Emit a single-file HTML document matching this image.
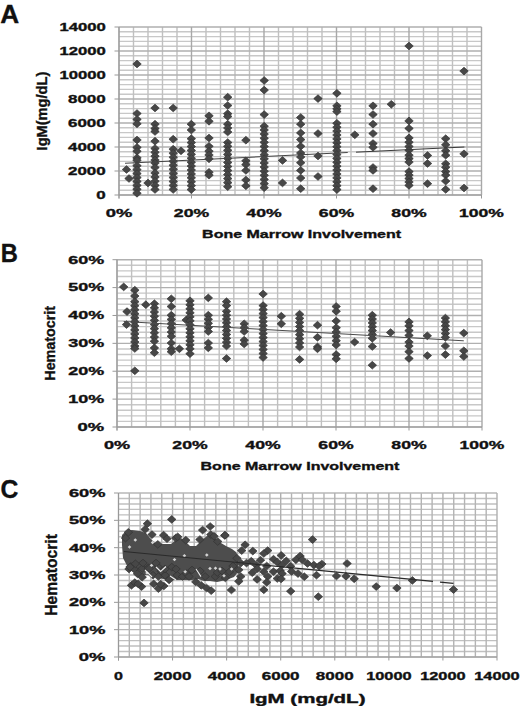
<!DOCTYPE html>
<html><head><meta charset="utf-8"><title>Figure</title>
<style>html,body{margin:0;padding:0;background:#fff;}body{width:520px;height:706px;overflow:hidden;}svg{display:block;}text{font-family:"Liberation Sans",sans-serif;font-weight:bold;fill:#111;stroke:#111;stroke-width:0.35px;}</style>
</head><body>
<svg width="520" height="706" viewBox="0 0 520 706">
<defs>
<path id="d" d="M0,-3.85L4.25,0L0,3.85L-4.25,0Z" fill="#474747" stroke="#333333" stroke-width="0.7"/>
</defs>
<rect width="520" height="706" fill="#fff"/>
<path d="M119 190.2H481.5M119 185.4H481.5M119 180.6H481.5M119 175.8H481.5M119 166.2H481.5M119 161.4H481.5M119 156.6H481.5M119 151.8H481.5M119 142.2H481.5M119 137.4H481.5M119 132.6H481.5M119 127.8H481.5M119 118.2H481.5M119 113.4H481.5M119 108.6H481.5M119 103.8H481.5M119 94.2H481.5M119 89.4H481.5M119 84.6H481.5M119 79.8H481.5M119 70.2H481.5M119 65.4H481.5M119 60.6H481.5M119 55.8H481.5M119 46.2H481.5M119 41.4H481.5M119 36.6H481.5M119 31.8H481.5" stroke="#c8c8c8" stroke-width="1.4" fill="none"/>
<path d="M133.5 27V195M148 27V195M162.5 27V195M177 27V195M206 27V195M220.5 27V195M235 27V195M249.5 27V195M278.5 27V195M293 27V195M307.5 27V195M322 27V195M351 27V195M365.5 27V195M380 27V195M394.5 27V195M423.5 27V195M438 27V195M452.5 27V195M467 27V195" stroke="#c0c0c0" stroke-width="1.4" fill="none"/>
<path d="M119 195H481.5M119 171H481.5M119 147H481.5M119 123H481.5M119 99H481.5M119 75H481.5M119 51H481.5M119 27H481.5" stroke="#b0b0b0" stroke-width="1.4" fill="none"/>
<path d="M119 27V195M191.5 27V195M264 27V195M336.5 27V195M409 27V195M481.5 27V195" stroke="#a8a8a8" stroke-width="1.4" fill="none"/>
<line x1="119" y1="27" x2="119" y2="198.5" stroke="#999999" stroke-width="1"/>
<line x1="119" y1="195" x2="481.5" y2="195" stroke="#999999" stroke-width="1"/>
<line x1="114.5" y1="195" x2="119" y2="195" stroke="#999999" stroke-width="1"/>
<line x1="114.5" y1="171" x2="119" y2="171" stroke="#999999" stroke-width="1"/>
<line x1="114.5" y1="147" x2="119" y2="147" stroke="#999999" stroke-width="1"/>
<line x1="114.5" y1="123" x2="119" y2="123" stroke="#999999" stroke-width="1"/>
<line x1="114.5" y1="99" x2="119" y2="99" stroke="#999999" stroke-width="1"/>
<line x1="114.5" y1="75" x2="119" y2="75" stroke="#999999" stroke-width="1"/>
<line x1="114.5" y1="51" x2="119" y2="51" stroke="#999999" stroke-width="1"/>
<line x1="114.5" y1="27" x2="119" y2="27" stroke="#999999" stroke-width="1"/>
<line x1="119" y1="195" x2="119" y2="198.5" stroke="#999999" stroke-width="1"/>
<line x1="191.5" y1="195" x2="191.5" y2="198.5" stroke="#999999" stroke-width="1"/>
<line x1="264" y1="195" x2="264" y2="198.5" stroke="#999999" stroke-width="1"/>
<line x1="336.5" y1="195" x2="336.5" y2="198.5" stroke="#999999" stroke-width="1"/>
<line x1="409" y1="195" x2="409" y2="198.5" stroke="#999999" stroke-width="1"/>
<line x1="481.5" y1="195" x2="481.5" y2="198.5" stroke="#999999" stroke-width="1"/>
<use href="#d" x="126.5" y="169.5"/>
<use href="#d" x="129" y="178.5"/>
<use href="#d" x="137" y="64"/>
<use href="#d" x="137" y="113.5"/>
<use href="#d" x="137" y="119.4"/>
<use href="#d" x="137" y="123.8"/>
<use href="#d" x="137" y="140"/>
<use href="#d" x="137" y="147.4"/>
<use href="#d" x="137" y="151.3"/>
<use href="#d" x="137" y="157.8"/>
<use href="#d" x="137" y="160.3"/>
<use href="#d" x="137" y="165.7"/>
<use href="#d" x="137" y="169.64"/>
<use href="#d" x="137" y="173.59"/>
<use href="#d" x="137" y="177.53"/>
<use href="#d" x="137" y="181.47"/>
<use href="#d" x="137" y="185.41"/>
<use href="#d" x="137" y="189.36"/>
<use href="#d" x="137" y="193.3"/>
<use href="#d" x="148" y="183"/>
<use href="#d" x="155" y="108"/>
<use href="#d" x="155" y="124.2"/>
<use href="#d" x="155" y="128.5"/>
<use href="#d" x="155" y="131.5"/>
<use href="#d" x="155" y="141.2"/>
<use href="#d" x="155" y="148.5"/>
<use href="#d" x="155" y="152.33"/>
<use href="#d" x="155" y="156.17"/>
<use href="#d" x="155" y="160"/>
<use href="#d" x="155" y="163"/>
<use href="#d" x="155" y="167.5"/>
<use href="#d" x="155" y="173"/>
<use href="#d" x="155" y="177.12"/>
<use href="#d" x="155" y="181.25"/>
<use href="#d" x="155" y="185.38"/>
<use href="#d" x="155" y="189.5"/>
<use href="#d" x="173.2" y="108"/>
<use href="#d" x="173.2" y="139.2"/>
<use href="#d" x="173.2" y="149.2"/>
<use href="#d" x="173.2" y="153.23"/>
<use href="#d" x="173.2" y="157.26"/>
<use href="#d" x="173.2" y="161.29"/>
<use href="#d" x="173.2" y="165.32"/>
<use href="#d" x="173.2" y="169.35"/>
<use href="#d" x="173.2" y="173.38"/>
<use href="#d" x="173.2" y="177.41"/>
<use href="#d" x="173.2" y="181.44"/>
<use href="#d" x="173.2" y="185.47"/>
<use href="#d" x="173.2" y="189.5"/>
<use href="#d" x="181" y="150.8"/>
<use href="#d" x="191.3" y="124.2"/>
<use href="#d" x="191.3" y="130"/>
<use href="#d" x="191.3" y="138.7"/>
<use href="#d" x="191.3" y="142.62"/>
<use href="#d" x="191.3" y="146.53"/>
<use href="#d" x="191.3" y="150.45"/>
<use href="#d" x="191.3" y="154.36"/>
<use href="#d" x="191.3" y="158.28"/>
<use href="#d" x="191.3" y="162.19"/>
<use href="#d" x="191.3" y="166.11"/>
<use href="#d" x="191.3" y="170.02"/>
<use href="#d" x="191.3" y="173.94"/>
<use href="#d" x="191.3" y="177.85"/>
<use href="#d" x="191.3" y="181.77"/>
<use href="#d" x="191.3" y="185.68"/>
<use href="#d" x="191.3" y="189.6"/>
<use href="#d" x="209" y="115.8"/>
<use href="#d" x="209" y="121.3"/>
<use href="#d" x="209" y="138"/>
<use href="#d" x="209" y="146.3"/>
<use href="#d" x="209" y="151.2"/>
<use href="#d" x="209" y="155"/>
<use href="#d" x="209" y="158.8"/>
<use href="#d" x="209" y="172.3"/>
<use href="#d" x="209" y="175.2"/>
<use href="#d" x="227.7" y="97.2"/>
<use href="#d" x="227.7" y="105.5"/>
<use href="#d" x="227.7" y="113.7"/>
<use href="#d" x="227.7" y="116.5"/>
<use href="#d" x="227.7" y="124.2"/>
<use href="#d" x="227.7" y="128"/>
<use href="#d" x="227.7" y="132"/>
<use href="#d" x="227.7" y="142.5"/>
<use href="#d" x="227.7" y="146.3"/>
<use href="#d" x="227.7" y="150.34"/>
<use href="#d" x="227.7" y="154.38"/>
<use href="#d" x="227.7" y="158.42"/>
<use href="#d" x="227.7" y="162.46"/>
<use href="#d" x="227.7" y="166.5"/>
<use href="#d" x="227.7" y="170.54"/>
<use href="#d" x="227.7" y="174.58"/>
<use href="#d" x="227.7" y="178.62"/>
<use href="#d" x="227.7" y="182.66"/>
<use href="#d" x="227.7" y="186.7"/>
<use href="#d" x="245.9" y="140.2"/>
<use href="#d" x="245.9" y="160.8"/>
<use href="#d" x="245.9" y="164.6"/>
<use href="#d" x="245.9" y="170.4"/>
<use href="#d" x="245.9" y="180"/>
<use href="#d" x="245.9" y="185.8"/>
<use href="#d" x="264.2" y="80.5"/>
<use href="#d" x="264.2" y="90.1"/>
<use href="#d" x="264.2" y="114.6"/>
<use href="#d" x="264.2" y="126.2"/>
<use href="#d" x="264.2" y="130"/>
<use href="#d" x="264.2" y="134.12"/>
<use href="#d" x="264.2" y="138.24"/>
<use href="#d" x="264.2" y="142.36"/>
<use href="#d" x="264.2" y="146.49"/>
<use href="#d" x="264.2" y="150.61"/>
<use href="#d" x="264.2" y="154.73"/>
<use href="#d" x="264.2" y="158.85"/>
<use href="#d" x="264.2" y="162.97"/>
<use href="#d" x="264.2" y="167.09"/>
<use href="#d" x="264.2" y="171.21"/>
<use href="#d" x="264.2" y="175.34"/>
<use href="#d" x="264.2" y="179.46"/>
<use href="#d" x="264.2" y="183.58"/>
<use href="#d" x="264.2" y="187.7"/>
<use href="#d" x="282.5" y="160.4"/>
<use href="#d" x="282.5" y="182.9"/>
<use href="#d" x="300.7" y="117.5"/>
<use href="#d" x="300.7" y="124.2"/>
<use href="#d" x="300.7" y="132.9"/>
<use href="#d" x="300.7" y="139.6"/>
<use href="#d" x="300.7" y="146.3"/>
<use href="#d" x="300.7" y="153"/>
<use href="#d" x="300.7" y="157"/>
<use href="#d" x="300.7" y="162.7"/>
<use href="#d" x="300.7" y="170.4"/>
<use href="#d" x="300.7" y="178"/>
<use href="#d" x="300.7" y="188.7"/>
<use href="#d" x="318" y="98.6"/>
<use href="#d" x="318" y="133.5"/>
<use href="#d" x="318" y="156"/>
<use href="#d" x="318" y="176.5"/>
<use href="#d" x="336.9" y="93.3"/>
<use href="#d" x="336.9" y="105.8"/>
<use href="#d" x="336.9" y="108.8"/>
<use href="#d" x="336.9" y="111.6"/>
<use href="#d" x="336.9" y="123.3"/>
<use href="#d" x="336.9" y="127.2"/>
<use href="#d" x="336.9" y="131.1"/>
<use href="#d" x="336.9" y="135"/>
<use href="#d" x="336.9" y="138.9"/>
<use href="#d" x="336.9" y="142.8"/>
<use href="#d" x="336.9" y="146.7"/>
<use href="#d" x="336.9" y="150.6"/>
<use href="#d" x="336.9" y="154.5"/>
<use href="#d" x="336.9" y="158.4"/>
<use href="#d" x="336.9" y="162.3"/>
<use href="#d" x="336.9" y="166.2"/>
<use href="#d" x="336.9" y="170.1"/>
<use href="#d" x="336.9" y="174"/>
<use href="#d" x="336.9" y="177.9"/>
<use href="#d" x="336.9" y="181.8"/>
<use href="#d" x="336.9" y="185.7"/>
<use href="#d" x="336.9" y="189.6"/>
<use href="#d" x="354.8" y="134.8"/>
<use href="#d" x="373" y="105.8"/>
<use href="#d" x="373" y="114.5"/>
<use href="#d" x="373" y="124.2"/>
<use href="#d" x="373" y="133.5"/>
<use href="#d" x="373" y="143.5"/>
<use href="#d" x="373" y="147.3"/>
<use href="#d" x="373" y="167.5"/>
<use href="#d" x="373" y="170.4"/>
<use href="#d" x="373" y="188.7"/>
<use href="#d" x="391.3" y="104.3"/>
<use href="#d" x="409" y="46"/>
<use href="#d" x="409" y="120.9"/>
<use href="#d" x="409" y="128.4"/>
<use href="#d" x="409" y="137.9"/>
<use href="#d" x="409" y="142.2"/>
<use href="#d" x="409" y="146.5"/>
<use href="#d" x="409" y="150.3"/>
<use href="#d" x="409" y="155.2"/>
<use href="#d" x="409" y="158.6"/>
<use href="#d" x="409" y="162.1"/>
<use href="#d" x="409" y="171.6"/>
<use href="#d" x="409" y="175.1"/>
<use href="#d" x="409" y="178.5"/>
<use href="#d" x="409" y="182"/>
<use href="#d" x="409" y="185.4"/>
<use href="#d" x="427.5" y="155.5"/>
<use href="#d" x="427.5" y="163.5"/>
<use href="#d" x="427.5" y="183.7"/>
<use href="#d" x="445.7" y="138.7"/>
<use href="#d" x="445.7" y="144.8"/>
<use href="#d" x="445.7" y="150.8"/>
<use href="#d" x="445.7" y="155.2"/>
<use href="#d" x="445.7" y="163.8"/>
<use href="#d" x="445.7" y="167.3"/>
<use href="#d" x="445.7" y="171.6"/>
<use href="#d" x="445.7" y="175.1"/>
<use href="#d" x="445.7" y="181.1"/>
<use href="#d" x="445.7" y="189.4"/>
<use href="#d" x="464" y="71.1"/>
<use href="#d" x="464" y="153.8"/>
<use href="#d" x="464" y="188"/>
<line x1="125" y1="163.2" x2="347.7" y2="152.57" stroke="#444" stroke-width="1.1"/><line x1="356" y1="152.17" x2="464.4" y2="147" stroke="#3a3a3a" stroke-width="1"/>
<text x="0.2" y="22.5" font-size="25.5" textLength="18.9" lengthAdjust="spacingAndGlyphs">A</text>
<text x="96.3" y="198.9" font-size="11" textLength="9.4" lengthAdjust="spacingAndGlyphs">0</text>
<text x="68" y="174.9" font-size="11" textLength="37.7" lengthAdjust="spacingAndGlyphs">2000</text>
<text x="68" y="150.9" font-size="11" textLength="37.7" lengthAdjust="spacingAndGlyphs">4000</text>
<text x="68" y="126.9" font-size="11" textLength="37.7" lengthAdjust="spacingAndGlyphs">6000</text>
<text x="68" y="102.9" font-size="11" textLength="37.7" lengthAdjust="spacingAndGlyphs">8000</text>
<text x="59.4" y="78.9" font-size="11" textLength="46.3" lengthAdjust="spacingAndGlyphs">10000</text>
<text x="59.4" y="54.9" font-size="11" textLength="46.3" lengthAdjust="spacingAndGlyphs">12000</text>
<text x="59.4" y="30.9" font-size="11" textLength="46.3" lengthAdjust="spacingAndGlyphs">14000</text>
<text x="105.7" y="216.5" font-size="11" textLength="26.6" lengthAdjust="spacingAndGlyphs">0%</text>
<text x="173.85" y="216.5" font-size="11" textLength="35.3" lengthAdjust="spacingAndGlyphs">20%</text>
<text x="246.35" y="216.5" font-size="11" textLength="35.3" lengthAdjust="spacingAndGlyphs">40%</text>
<text x="318.85" y="216.5" font-size="11" textLength="35.3" lengthAdjust="spacingAndGlyphs">60%</text>
<text x="391.35" y="216.5" font-size="11" textLength="35.3" lengthAdjust="spacingAndGlyphs">80%</text>
<text x="459.1" y="216.5" font-size="11" textLength="44.8" lengthAdjust="spacingAndGlyphs">100%</text>
<text x="202.1" y="237.6" font-size="11" textLength="199" lengthAdjust="spacingAndGlyphs">Bone Marrow Involvement</text>
<text transform="translate(46.7,150.4) rotate(-90)" x="0" y="0" font-size="14" textLength="78.7" lengthAdjust="spacingAndGlyphs">IgM(mg/dL)</text>
<path d="M117 421.42H482M117 415.85H482M117 410.27H482M117 404.69H482M117 393.54H482M117 387.96H482M117 382.39H482M117 376.81H482M117 365.66H482M117 360.08H482M117 354.5H482M117 348.93H482M117 337.77H482M117 332.2H482M117 326.62H482M117 321.04H482M117 309.89H482M117 304.31H482M117 298.74H482M117 293.16H482M117 282.01H482M117 276.43H482M117 270.85H482M117 265.28H482" stroke="#c8c8c8" stroke-width="1.4" fill="none"/>
<path d="M131.6 259.7V427M146.2 259.7V427M160.8 259.7V427M175.4 259.7V427M204.6 259.7V427M219.2 259.7V427M233.8 259.7V427M248.4 259.7V427M277.6 259.7V427M292.2 259.7V427M306.8 259.7V427M321.4 259.7V427M350.6 259.7V427M365.2 259.7V427M379.8 259.7V427M394.4 259.7V427M423.6 259.7V427M438.2 259.7V427M452.8 259.7V427M467.4 259.7V427" stroke="#c0c0c0" stroke-width="1.4" fill="none"/>
<path d="M117 427H482M117 399.12H482M117 371.23H482M117 343.35H482M117 315.47H482M117 287.58H482M117 259.7H482" stroke="#b0b0b0" stroke-width="1.4" fill="none"/>
<path d="M117 259.7V427M190 259.7V427M263 259.7V427M336 259.7V427M409 259.7V427M482 259.7V427" stroke="#a8a8a8" stroke-width="1.4" fill="none"/>
<line x1="117" y1="259.7" x2="117" y2="430.5" stroke="#999999" stroke-width="1"/>
<line x1="117" y1="427" x2="482" y2="427" stroke="#999999" stroke-width="1"/>
<line x1="112.5" y1="427" x2="117" y2="427" stroke="#999999" stroke-width="1"/>
<line x1="112.5" y1="399.12" x2="117" y2="399.12" stroke="#999999" stroke-width="1"/>
<line x1="112.5" y1="371.23" x2="117" y2="371.23" stroke="#999999" stroke-width="1"/>
<line x1="112.5" y1="343.35" x2="117" y2="343.35" stroke="#999999" stroke-width="1"/>
<line x1="112.5" y1="315.47" x2="117" y2="315.47" stroke="#999999" stroke-width="1"/>
<line x1="112.5" y1="287.58" x2="117" y2="287.58" stroke="#999999" stroke-width="1"/>
<line x1="112.5" y1="259.7" x2="117" y2="259.7" stroke="#999999" stroke-width="1"/>
<line x1="117" y1="427" x2="117" y2="430.5" stroke="#999999" stroke-width="1"/>
<line x1="190" y1="427" x2="190" y2="430.5" stroke="#999999" stroke-width="1"/>
<line x1="263" y1="427" x2="263" y2="430.5" stroke="#999999" stroke-width="1"/>
<line x1="336" y1="427" x2="336" y2="430.5" stroke="#999999" stroke-width="1"/>
<line x1="409" y1="427" x2="409" y2="430.5" stroke="#999999" stroke-width="1"/>
<line x1="482" y1="427" x2="482" y2="430.5" stroke="#999999" stroke-width="1"/>
<use href="#d" x="123.7" y="286.9"/>
<use href="#d" x="127" y="311.6"/>
<use href="#d" x="126.5" y="324.6"/>
<use href="#d" x="134.8" y="290.2"/>
<use href="#d" x="134.8" y="296"/>
<use href="#d" x="134.8" y="301.7"/>
<use href="#d" x="134.8" y="305.73"/>
<use href="#d" x="134.8" y="309.75"/>
<use href="#d" x="134.8" y="313.78"/>
<use href="#d" x="134.8" y="317.81"/>
<use href="#d" x="134.8" y="321.84"/>
<use href="#d" x="134.8" y="325.86"/>
<use href="#d" x="134.8" y="329.89"/>
<use href="#d" x="134.8" y="333.92"/>
<use href="#d" x="134.8" y="337.95"/>
<use href="#d" x="134.8" y="341.97"/>
<use href="#d" x="134.8" y="346"/>
<use href="#d" x="134.8" y="348.5"/>
<use href="#d" x="134.8" y="370.8"/>
<use href="#d" x="145.8" y="304.7"/>
<use href="#d" x="154.4" y="303.7"/>
<use href="#d" x="154.4" y="307.87"/>
<use href="#d" x="154.4" y="312.03"/>
<use href="#d" x="154.4" y="316.2"/>
<use href="#d" x="154.4" y="320.37"/>
<use href="#d" x="154.4" y="324.53"/>
<use href="#d" x="154.4" y="328.7"/>
<use href="#d" x="154.4" y="332.87"/>
<use href="#d" x="154.4" y="337.03"/>
<use href="#d" x="154.4" y="341.2"/>
<use href="#d" x="154.4" y="347.9"/>
<use href="#d" x="154.4" y="352.7"/>
<use href="#d" x="171.3" y="298.8"/>
<use href="#d" x="171.3" y="306.5"/>
<use href="#d" x="171.3" y="315.2"/>
<use href="#d" x="171.3" y="319.42"/>
<use href="#d" x="171.3" y="323.64"/>
<use href="#d" x="171.3" y="327.86"/>
<use href="#d" x="171.3" y="332.08"/>
<use href="#d" x="171.3" y="336.3"/>
<use href="#d" x="171.3" y="343"/>
<use href="#d" x="171.3" y="348.8"/>
<use href="#d" x="171.3" y="351.7"/>
<use href="#d" x="179.4" y="348.8"/>
<use href="#d" x="186.2" y="320"/>
<use href="#d" x="190" y="300.8"/>
<use href="#d" x="190" y="304.8"/>
<use href="#d" x="190" y="308.8"/>
<use href="#d" x="190" y="312.8"/>
<use href="#d" x="190" y="316.8"/>
<use href="#d" x="190" y="320.8"/>
<use href="#d" x="190" y="324.8"/>
<use href="#d" x="190" y="328.8"/>
<use href="#d" x="190" y="332.8"/>
<use href="#d" x="190" y="336.8"/>
<use href="#d" x="190" y="340.8"/>
<use href="#d" x="190" y="344.8"/>
<use href="#d" x="190" y="348.8"/>
<use href="#d" x="190" y="353.7"/>
<use href="#d" x="208.3" y="297.9"/>
<use href="#d" x="208.3" y="315.2"/>
<use href="#d" x="208.3" y="319.27"/>
<use href="#d" x="208.3" y="323.35"/>
<use href="#d" x="208.3" y="327.43"/>
<use href="#d" x="208.3" y="331.5"/>
<use href="#d" x="208.3" y="343"/>
<use href="#d" x="208.3" y="347.9"/>
<use href="#d" x="226.5" y="301.7"/>
<use href="#d" x="226.5" y="305.6"/>
<use href="#d" x="226.5" y="311.3"/>
<use href="#d" x="226.5" y="315.16"/>
<use href="#d" x="226.5" y="319.01"/>
<use href="#d" x="226.5" y="322.87"/>
<use href="#d" x="226.5" y="326.72"/>
<use href="#d" x="226.5" y="330.58"/>
<use href="#d" x="226.5" y="334.43"/>
<use href="#d" x="226.5" y="338.29"/>
<use href="#d" x="226.5" y="342.14"/>
<use href="#d" x="226.5" y="346"/>
<use href="#d" x="226.5" y="358.5"/>
<use href="#d" x="244.2" y="323.8"/>
<use href="#d" x="244.2" y="327.7"/>
<use href="#d" x="244.2" y="331.5"/>
<use href="#d" x="244.2" y="340.2"/>
<use href="#d" x="244.2" y="344"/>
<use href="#d" x="263.1" y="294"/>
<use href="#d" x="263.1" y="305.6"/>
<use href="#d" x="263.1" y="309.59"/>
<use href="#d" x="263.1" y="313.58"/>
<use href="#d" x="263.1" y="317.58"/>
<use href="#d" x="263.1" y="321.57"/>
<use href="#d" x="263.1" y="325.56"/>
<use href="#d" x="263.1" y="329.55"/>
<use href="#d" x="263.1" y="333.55"/>
<use href="#d" x="263.1" y="337.54"/>
<use href="#d" x="263.1" y="341.53"/>
<use href="#d" x="263.1" y="345.52"/>
<use href="#d" x="263.1" y="349.52"/>
<use href="#d" x="263.1" y="353.51"/>
<use href="#d" x="263.1" y="357.5"/>
<use href="#d" x="281.3" y="316.2"/>
<use href="#d" x="281.3" y="323.8"/>
<use href="#d" x="299.6" y="314.2"/>
<use href="#d" x="299.6" y="318.3"/>
<use href="#d" x="299.6" y="322.4"/>
<use href="#d" x="299.6" y="326.5"/>
<use href="#d" x="299.6" y="330.6"/>
<use href="#d" x="299.6" y="334.7"/>
<use href="#d" x="299.6" y="338.8"/>
<use href="#d" x="299.6" y="342.9"/>
<use href="#d" x="299.6" y="347"/>
<use href="#d" x="299.6" y="359.4"/>
<use href="#d" x="317.5" y="325.2"/>
<use href="#d" x="317.5" y="337.3"/>
<use href="#d" x="317.5" y="346.9"/>
<use href="#d" x="317.5" y="348.8"/>
<use href="#d" x="336.2" y="306.5"/>
<use href="#d" x="336.2" y="311.3"/>
<use href="#d" x="336.2" y="321"/>
<use href="#d" x="336.2" y="327.7"/>
<use href="#d" x="336.2" y="332.02"/>
<use href="#d" x="336.2" y="336.35"/>
<use href="#d" x="336.2" y="340.68"/>
<use href="#d" x="336.2" y="345"/>
<use href="#d" x="336.2" y="354.6"/>
<use href="#d" x="336.2" y="358.8"/>
<use href="#d" x="354.6" y="342.1"/>
<use href="#d" x="372.3" y="315.2"/>
<use href="#d" x="372.3" y="319.05"/>
<use href="#d" x="372.3" y="322.9"/>
<use href="#d" x="372.3" y="326.75"/>
<use href="#d" x="372.3" y="330.6"/>
<use href="#d" x="372.3" y="334.45"/>
<use href="#d" x="372.3" y="338.3"/>
<use href="#d" x="372.3" y="346.5"/>
<use href="#d" x="372.3" y="365.2"/>
<use href="#d" x="390.6" y="332.5"/>
<use href="#d" x="409" y="321.9"/>
<use href="#d" x="409" y="325.8"/>
<use href="#d" x="409" y="330.6"/>
<use href="#d" x="409" y="335.4"/>
<use href="#d" x="409" y="342.1"/>
<use href="#d" x="409" y="346"/>
<use href="#d" x="409" y="351.7"/>
<use href="#d" x="409" y="358.5"/>
<use href="#d" x="427.3" y="335.8"/>
<use href="#d" x="427.3" y="355.6"/>
<use href="#d" x="445.4" y="318.1"/>
<use href="#d" x="445.4" y="321.9"/>
<use href="#d" x="445.4" y="325.8"/>
<use href="#d" x="445.4" y="329.63"/>
<use href="#d" x="445.4" y="333.47"/>
<use href="#d" x="445.4" y="337.3"/>
<use href="#d" x="445.4" y="346"/>
<use href="#d" x="445.4" y="354.6"/>
<use href="#d" x="463.8" y="333.1"/>
<use href="#d" x="463.8" y="350.8"/>
<use href="#d" x="463.8" y="356.5"/>
<line x1="123.7" y1="321.5" x2="463.8" y2="340.8" stroke="#4a4a4a" stroke-width="1"/>
<text x="0.8" y="261.9" font-size="25.5" textLength="17.1" lengthAdjust="spacingAndGlyphs">B</text>
<text x="77.6" y="430.9" font-size="11" textLength="26.6" lengthAdjust="spacingAndGlyphs">0%</text>
<text x="68.3" y="403.02" font-size="11" textLength="35.9" lengthAdjust="spacingAndGlyphs">10%</text>
<text x="68.3" y="375.13" font-size="11" textLength="35.9" lengthAdjust="spacingAndGlyphs">20%</text>
<text x="68.3" y="347.25" font-size="11" textLength="35.9" lengthAdjust="spacingAndGlyphs">30%</text>
<text x="68.3" y="319.37" font-size="11" textLength="35.9" lengthAdjust="spacingAndGlyphs">40%</text>
<text x="68.3" y="291.48" font-size="11" textLength="35.9" lengthAdjust="spacingAndGlyphs">50%</text>
<text x="68.3" y="263.6" font-size="11" textLength="35.9" lengthAdjust="spacingAndGlyphs">60%</text>
<text x="103.9" y="448.6" font-size="11" textLength="26.2" lengthAdjust="spacingAndGlyphs">0%</text>
<text x="172.35" y="448.6" font-size="11" textLength="35.3" lengthAdjust="spacingAndGlyphs">20%</text>
<text x="245.35" y="448.6" font-size="11" textLength="35.3" lengthAdjust="spacingAndGlyphs">40%</text>
<text x="318.35" y="448.6" font-size="11" textLength="35.3" lengthAdjust="spacingAndGlyphs">60%</text>
<text x="391.35" y="448.6" font-size="11" textLength="35.3" lengthAdjust="spacingAndGlyphs">80%</text>
<text x="459.6" y="448.6" font-size="11" textLength="44.8" lengthAdjust="spacingAndGlyphs">100%</text>
<text x="200.6" y="470.2" font-size="11" textLength="198.8" lengthAdjust="spacingAndGlyphs">Bone Marrow Involvement</text>
<text transform="translate(55.2,380.7) rotate(-90)" x="0" y="0" font-size="15" textLength="74.8" lengthAdjust="spacingAndGlyphs">Hematocrit</text>
<path d="M118.5 651.53H497M118.5 646.07H497M118.5 640.6H497M118.5 635.13H497M118.5 624.2H497M118.5 618.73H497M118.5 613.27H497M118.5 607.8H497M118.5 596.87H497M118.5 591.4H497M118.5 585.93H497M118.5 580.47H497M118.5 569.53H497M118.5 564.07H497M118.5 558.6H497M118.5 553.13H497M118.5 542.2H497M118.5 536.73H497M118.5 531.27H497M118.5 525.8H497M118.5 514.87H497M118.5 509.4H497M118.5 503.93H497M118.5 498.47H497" stroke="#c0c0c0" stroke-width="1.4" fill="none"/>
<path d="M129.31 493V657M140.13 493V657M150.94 493V657M161.76 493V657M183.39 493V657M194.2 493V657M205.01 493V657M215.83 493V657M237.46 493V657M248.27 493V657M259.09 493V657M269.9 493V657M291.53 493V657M302.34 493V657M313.16 493V657M323.97 493V657M345.6 493V657M356.41 493V657M367.23 493V657M378.04 493V657M399.67 493V657M410.49 493V657M421.3 493V657M432.11 493V657M453.74 493V657M464.56 493V657M475.37 493V657M486.19 493V657" stroke="#b4b4b4" stroke-width="1.4" fill="none"/>
<path d="M118.5 657H497M118.5 629.67H497M118.5 602.33H497M118.5 575H497M118.5 547.67H497M118.5 520.33H497M118.5 493H497" stroke="#b8b8b8" stroke-width="1.4" fill="none"/>
<path d="M118.5 493V657M172.57 493V657M226.64 493V657M280.71 493V657M334.79 493V657M388.86 493V657M442.93 493V657M497 493V657" stroke="#b0b0b0" stroke-width="1.4" fill="none"/>
<line x1="118.5" y1="493" x2="118.5" y2="660.5" stroke="#999999" stroke-width="1"/>
<line x1="118.5" y1="657" x2="497" y2="657" stroke="#999999" stroke-width="1"/>
<line x1="114" y1="657" x2="118.5" y2="657" stroke="#999999" stroke-width="1"/>
<line x1="114" y1="629.67" x2="118.5" y2="629.67" stroke="#999999" stroke-width="1"/>
<line x1="114" y1="602.33" x2="118.5" y2="602.33" stroke="#999999" stroke-width="1"/>
<line x1="114" y1="575" x2="118.5" y2="575" stroke="#999999" stroke-width="1"/>
<line x1="114" y1="547.67" x2="118.5" y2="547.67" stroke="#999999" stroke-width="1"/>
<line x1="114" y1="520.33" x2="118.5" y2="520.33" stroke="#999999" stroke-width="1"/>
<line x1="114" y1="493" x2="118.5" y2="493" stroke="#999999" stroke-width="1"/>
<line x1="118.5" y1="657" x2="118.5" y2="660.5" stroke="#999999" stroke-width="1"/>
<line x1="172.57" y1="657" x2="172.57" y2="660.5" stroke="#999999" stroke-width="1"/>
<line x1="226.64" y1="657" x2="226.64" y2="660.5" stroke="#999999" stroke-width="1"/>
<line x1="280.71" y1="657" x2="280.71" y2="660.5" stroke="#999999" stroke-width="1"/>
<line x1="334.79" y1="657" x2="334.79" y2="660.5" stroke="#999999" stroke-width="1"/>
<line x1="388.86" y1="657" x2="388.86" y2="660.5" stroke="#999999" stroke-width="1"/>
<line x1="442.93" y1="657" x2="442.93" y2="660.5" stroke="#999999" stroke-width="1"/>
<line x1="497" y1="657" x2="497" y2="660.5" stroke="#999999" stroke-width="1"/>
<polygon points="122,535 126,531 132,530 140,531 146,533 150,538 155,543 160,544 166,544 171,544 176,540 181,538 186,542 190,546 196,546 201,541 207,536 211,535 216,539 221,543 226,546 232,549 236,552 238,556 238,572 234,577 226,580 217,582 210,581 204,581 198,579 192,580 186,580 180,580 172,580 166,580 160,578 156,576 150,575 142,575 135,570 127.2,566 123,558 122,545" fill="#4d4d4d"/>
<use href="#d" x="171.7" y="519.4"/>
<use href="#d" x="147.4" y="523.7"/>
<use href="#d" x="145.1" y="529.4"/>
<use href="#d" x="152" y="534.6"/>
<use href="#d" x="128.4" y="532.3"/>
<use href="#d" x="125.5" y="538.1"/>
<use href="#d" x="163.6" y="535.2"/>
<use href="#d" x="167" y="538.7"/>
<use href="#d" x="175.7" y="538.1"/>
<use href="#d" x="157.8" y="544.4"/>
<use href="#d" x="210.2" y="526.5"/>
<use href="#d" x="202.6" y="530.1"/>
<use href="#d" x="224.8" y="535.5"/>
<use href="#d" x="210.8" y="534.6"/>
<use href="#d" x="214" y="536.2"/>
<use href="#d" x="199.9" y="539.5"/>
<use href="#d" x="177.7" y="536.8"/>
<use href="#d" x="185.8" y="540.2"/>
<use href="#d" x="217.7" y="541.5"/>
<use href="#d" x="225" y="535.2"/>
<use href="#d" x="130.8" y="566.4"/>
<use href="#d" x="137.5" y="573.8"/>
<use href="#d" x="142.2" y="577.2"/>
<use href="#d" x="142.2" y="568.5"/>
<use href="#d" x="148.3" y="567.8"/>
<use href="#d" x="153" y="575.2"/>
<use href="#d" x="158.4" y="576.5"/>
<use href="#d" x="165.1" y="575.2"/>
<use href="#d" x="169.1" y="579.9"/>
<use href="#d" x="131.5" y="585.3"/>
<use href="#d" x="134.8" y="582.6"/>
<use href="#d" x="141.6" y="586.6"/>
<use href="#d" x="138.2" y="583.9"/>
<use href="#d" x="153.7" y="583.9"/>
<use href="#d" x="158.4" y="588.6"/>
<use href="#d" x="163.8" y="586"/>
<use href="#d" x="161.1" y="571.2"/>
<use href="#d" x="158.4" y="567.1"/>
<use href="#d" x="171.8" y="567.1"/>
<use href="#d" x="177.2" y="575.2"/>
<use href="#d" x="182.6" y="576.5"/>
<use href="#d" x="186.6" y="573.8"/>
<use href="#d" x="129" y="569"/>
<use href="#d" x="134" y="569"/>
<use href="#d" x="165" y="569"/>
<use href="#d" x="176" y="569"/>
<use href="#d" x="144" y="602.9"/>
<use href="#d" x="135.4" y="563.8"/>
<use href="#d" x="143" y="563"/>
<use href="#d" x="156" y="563"/>
<use href="#d" x="130" y="567"/>
<use href="#d" x="149.2" y="568.5"/>
<use href="#d" x="160.6" y="584.2"/>
<use href="#d" x="189" y="576.5"/>
<use href="#d" x="195.8" y="581.9"/>
<use href="#d" x="201.2" y="585.3"/>
<use href="#d" x="206.5" y="588"/>
<use href="#d" x="211.2" y="590.7"/>
<use href="#d" x="205.2" y="576.5"/>
<use href="#d" x="215.3" y="576.5"/>
<use href="#d" x="217.3" y="572.5"/>
<use href="#d" x="225.4" y="577.9"/>
<use href="#d" x="229.4" y="571.8"/>
<use href="#d" x="231.4" y="590"/>
<use href="#d" x="192" y="570"/>
<use href="#d" x="200" y="571"/>
<use href="#d" x="222" y="571"/>
<use href="#d" x="233" y="566"/>
<use href="#d" x="245.1" y="544.8"/>
<use href="#d" x="241.7" y="550.6"/>
<use href="#d" x="252.8" y="551.1"/>
<use href="#d" x="267.7" y="550.6"/>
<use href="#d" x="263.8" y="553.5"/>
<use href="#d" x="281.2" y="555.4"/>
<use href="#d" x="260.5" y="560.2"/>
<use href="#d" x="251.3" y="561.2"/>
<use href="#d" x="273.5" y="559.2"/>
<use href="#d" x="277.3" y="562.1"/>
<use href="#d" x="236.9" y="558.3"/>
<use href="#d" x="240.8" y="563.1"/>
<use href="#d" x="246.5" y="563.1"/>
<use href="#d" x="256.2" y="565"/>
<use href="#d" x="266.7" y="566"/>
<use href="#d" x="282.1" y="565"/>
<use href="#d" x="238.8" y="569.8"/>
<use href="#d" x="252.3" y="572.7"/>
<use href="#d" x="257.1" y="568.8"/>
<use href="#d" x="263.8" y="571.7"/>
<use href="#d" x="273.5" y="571.7"/>
<use href="#d" x="280.2" y="570.8"/>
<use href="#d" x="267.7" y="576.5"/>
<use href="#d" x="257.1" y="579.4"/>
<use href="#d" x="240.8" y="576.5"/>
<use href="#d" x="277.3" y="578.5"/>
<use href="#d" x="266.7" y="582.3"/>
<use href="#d" x="238.8" y="581.3"/>
<use href="#d" x="263.8" y="589.8"/>
<use href="#d" x="300.1" y="556.1"/>
<use href="#d" x="286.3" y="560.9"/>
<use href="#d" x="295.9" y="559.8"/>
<use href="#d" x="307.5" y="563.5"/>
<use href="#d" x="313.9" y="565.1"/>
<use href="#d" x="321.8" y="564"/>
<use href="#d" x="319.2" y="566.2"/>
<use href="#d" x="302.2" y="559.8"/>
<use href="#d" x="290.6" y="566.2"/>
<use href="#d" x="282.1" y="573.6"/>
<use href="#d" x="291.6" y="571.5"/>
<use href="#d" x="298" y="573.6"/>
<use href="#d" x="304.3" y="576.7"/>
<use href="#d" x="316.5" y="575.2"/>
<use href="#d" x="281.1" y="578.9"/>
<use href="#d" x="290.7" y="591.2"/>
<use href="#d" x="318.3" y="596.7"/>
<use href="#d" x="312.5" y="539.6"/>
<use href="#d" x="336.5" y="576"/>
<use href="#d" x="346" y="576.3"/>
<use href="#d" x="347.1" y="563.5"/>
<use href="#d" x="354.2" y="578.8"/>
<use href="#d" x="376.2" y="586.6"/>
<use href="#d" x="396.9" y="588"/>
<use href="#d" x="412.4" y="580.4"/>
<use href="#d" x="453.5" y="589.6"/>
<path d="M135.3,538.3l1.8,1.7l-1.8,1.7l-1.8,-1.7z" fill="#d4d4d4"/>
<path d="M129.5,545.3l1.8,1.7l-1.8,1.7l-1.8,-1.7z" fill="#d4d4d4"/>
<path d="M174.5,557.9l1.8,1.7l-1.8,1.7l-1.8,-1.7z" fill="#d4d4d4"/>
<path d="M206.8,553.3l1.8,1.7l-1.8,1.7l-1.8,-1.7z" fill="#d4d4d4"/>
<path d="M152.6,540.8l1.8,1.7l-1.8,1.7l-1.8,-1.7z" fill="#d4d4d4"/>
<path d="M184.4,554l1.8,1.7l-1.8,1.7l-1.8,-1.7z" fill="#d4d4d4"/>
<path d="M185.2,570.1l1.8,1.7l-1.8,1.7l-1.8,-1.7z" fill="#d4d4d4"/>
<path d="M215.5,566.5l1.8,1.7l-1.8,1.7l-1.8,-1.7z" fill="#d4d4d4"/>
<path d="M210,566.8l1.8,1.7l-1.8,1.7l-1.8,-1.7z" fill="#d4d4d4"/>
<path d="M220,567.3l1.8,1.7l-1.8,1.7l-1.8,-1.7z" fill="#d4d4d4"/>
<path d="M231.6,567.3l1.8,1.7l-1.8,1.7l-1.8,-1.7z" fill="#d4d4d4"/>
<path d="M224,574.1l1.8,1.7l-1.8,1.7l-1.8,-1.7z" fill="#d4d4d4"/>
<path d="M147,571.3l1.8,1.7l-1.8,1.7l-1.8,-1.7z" fill="#d4d4d4"/>
<path d="M151.5,563.7l1.8,1.7l-1.8,1.7l-1.8,-1.7z" fill="#d4d4d4"/>
<path d="M156,567L160.6,571.5L166,566.5M196,569L201,576.6M145,570L152,577M170,576L176,580" stroke="#f0f0f0" stroke-width="1.1" fill="none"/>
<line x1="123.8" y1="551.5" x2="433" y2="581.42" stroke="#2a2a2a" stroke-width="1.1"/><line x1="440" y1="582.1" x2="453.5" y2="583.4" stroke="#2a2a2a" stroke-width="1.1"/>
<text x="0.6" y="497.7" font-size="25.5" textLength="17.8" lengthAdjust="spacingAndGlyphs">C</text>
<text x="78.8" y="660.9" font-size="11" textLength="26.6" lengthAdjust="spacingAndGlyphs">0%</text>
<text x="68.9" y="633.57" font-size="11" textLength="36.5" lengthAdjust="spacingAndGlyphs">10%</text>
<text x="68.9" y="606.23" font-size="11" textLength="36.5" lengthAdjust="spacingAndGlyphs">20%</text>
<text x="68.9" y="578.9" font-size="11" textLength="36.5" lengthAdjust="spacingAndGlyphs">30%</text>
<text x="68.9" y="551.57" font-size="11" textLength="36.5" lengthAdjust="spacingAndGlyphs">40%</text>
<text x="68.9" y="524.23" font-size="11" textLength="36.5" lengthAdjust="spacingAndGlyphs">50%</text>
<text x="68.9" y="496.9" font-size="11" textLength="36.5" lengthAdjust="spacingAndGlyphs">60%</text>
<text x="114.05" y="679.6" font-size="11" textLength="8.9" lengthAdjust="spacingAndGlyphs">0</text>
<text x="153.67" y="679.6" font-size="11" textLength="37.8" lengthAdjust="spacingAndGlyphs">2000</text>
<text x="207.74" y="679.6" font-size="11" textLength="37.8" lengthAdjust="spacingAndGlyphs">4000</text>
<text x="261.81" y="679.6" font-size="11" textLength="37.8" lengthAdjust="spacingAndGlyphs">6000</text>
<text x="315.89" y="679.6" font-size="11" textLength="37.8" lengthAdjust="spacingAndGlyphs">8000</text>
<text x="366.16" y="679.6" font-size="11" textLength="45.4" lengthAdjust="spacingAndGlyphs">10000</text>
<text x="420.23" y="679.6" font-size="11" textLength="45.4" lengthAdjust="spacingAndGlyphs">12000</text>
<text x="474.3" y="679.6" font-size="11" textLength="45.4" lengthAdjust="spacingAndGlyphs">14000</text>
<text x="249.4" y="702.5" font-size="12.5" textLength="116.1" lengthAdjust="spacingAndGlyphs">IgM (mg/dL)</text>
<text transform="translate(56.6,615.7) rotate(-90)" x="0" y="0" font-size="17" textLength="81.6" lengthAdjust="spacingAndGlyphs">Hematocrit</text>
</svg></body></html>
